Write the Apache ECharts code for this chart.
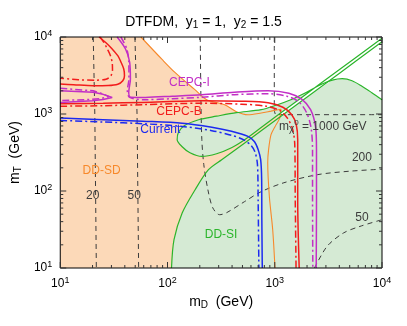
<!DOCTYPE html>
<html lang="en">
<head>
<meta charset="UTF-8">
<title>DTFDM</title>
<script src="https://cdn.jsdelivr.net/npm/echarts@6/dist/echarts.min.js"></script>
<style>html,body{margin:0;padding:0;background:#fff;}</style>
</head>
<body>
<div id="main" style="width:407px;height:326px;"></div>
<script type="text/javascript">
// all points are [m_D, m_T] in GeV
var ddsdEdge = [[56.5,10000],[89.5,5070],[118,3438],[180,2068],[232,1533],[341,1321],[439,1073],[563,979],[747,1030],[923,1090],[1142,1155],[1118,896],[1005,684],[923,539],[876,344],[860,233],[891,84],[957,31.4],[1005,10]];

var ddsiLower = [[109,10],[115,23.3],[137,51.8],[181,104],[241,189],[320,255],[521,418],[747,607],[1745,1444],[4077,3438],[10000,8690]];
var ddsiUpper = [[10000,9647],[4077,3840],[1745,1604],[747,668],[524,464],[395,365],[287,305],[209,281],[162,314],[137,376],[123,464],[126,572],[143,705],[195,843],[287,936],[439,1040],[747,1137],[1027,1301],[1411,1533],[1940,1891],[2668,2402],[3440,2748],[4254,2873],[5258,2707],[6501,2296],[8037,1891],[10000,1533]];
var ddsiMainArea = [[109,10],[115,23.3],[137,51.8],[181,104],[241,189],[320,255],[521,418],[747,607],[1745,1444],[3440,2756],[4254,2873],[5258,2707],[6501,2296],[8037,1891],[10000,1533],[10000,10]];
var ddsiLoopArea = [[2068,1949],[1940,1891],[1411,1533],[1027,1301],[747,1137],[439,1040],[287,936],[195,843],[143,705],[126,572],[123,464],[137,376],[162,314],[209,281],[287,305],[395,365],[524,464],[747,668],[1745,1604]];

var currentSolid = [[10,887],[25.1,843],[58.6,806],[137,760],[259,674],[395,598],[563,512],[648,437],[701,344],[739,255],[755,140],[758,42.4],[765,10]];
var currentDash = [[10,826],[25.1,787],[58.6,748],[137,690],[259,607],[395,530],[510,464],[604,388],[658,314],[690,220],[700,77],[711,10]];

var cepcBSolid = [[10,1361],[25.1,1381],[58.6,1415],[209,1488],[489,1466],[866,1403],[1191,1225],[1441,979],[1587,726],[1637,464],[1637,77],[1690,10]];
var cepcBDash = [[10,1263],[25.1,1282],[58.6,1321],[209,1381],[489,1341],[830,1263],[1118,1104],[1324,869],[1472,626],[1537,399],[1553,77],[1580,10]];
var cepcBTopSolid = [[23.0,10000],[26.7,8434],[30.5,6986],[34.4,5717],[36.7,4777],[39.1,3840],[39.7,3143],[38.3,2707],[34.4,2438],[27.9,2345],[20.3,2331],[13.3,2402],[10,2452]];
var cepcBTopDash = [[23.5,10000],[25.6,8434],[27.5,6986],[29.4,5717],[30.5,4637],[30.7,3760],[29.7,3143],[26.7,2831],[21.1,2748],[14.7,2789],[10,2917]];

var cepcISolid = [[33.9,10000],[40.6,6986],[44.4,4677],[45.1,2848],[43.5,1908],[45.4,1652],[62.4,1643],[111,1703],[209,1781],[421,1919],[866,2007],[1353,1863],[1782,1557],[2158,1137],[2399,684],[2450,344],[2450,77],[2435,10]];
var cepcIDash = [[36.7,10000],[41.7,7047],[43.5,4777],[43.7,2873],[42.2,2007],[44.4,1643],[62.4,1533],[111,1580],[209,1652],[421,1781],[866,1834],[1297,1703],[1672,1444],[1982,1040],[2180,664],[2251,344],[2251,77],[2265,10]];
var cepcISpikeSolid = [[10,2007],[20.3,1920],[25.1,1800],[30.5,1643],[25.1,1543],[20,1488],[10,1415]];
var cepcISpikeDash = [[10,2160],[20.3,2000],[25,1820],[28.5,1680],[24,1590],[18,1540],[10,1500]];

var mchi20 = [[20.3,10000],[21,1000],[21.7,10]];
var mchi50 = [[49.7,10000],[52,1000],[53.8,10]];
var mchi200 = [[202,10000],[205,1533],[209,464],[218,220],[238,104],[264,60.7],[306,49.2],[355,52.2],[521,72.6],[747,98],[1217,128],[2502,163],[5040,181],[10000,192]];
var mchi1000 = [[990,10000],[990,1150],[1020,990],[1300,980],[10000,980]];
var mchi50low = [[2349,10],[3074,19.1],[4373,28.5],[6229,34.7],[10000,42.4]];

var majorTicks = [10,100,1000,10000];
var minorTicks = [20,30,40,50,60,70,80,90,200,300,400,500,600,700,800,900,2000,3000,4000,5000,6000,7000,8000,9000];

var labelTexts = ['DD-SD','DD-SI','CEPC-I','CEPC-B','Current','20','50','200','50','m{sb|χ}{sp|0} = 1000 GeV'];
var labelPoints = [[24.3,183],[316,27.1],[160,2550],[128,1072],[85.8,626],[20.1,88.2],[48.9,88.2],[6501,267],[6501,45],[984,684]];

var C = {
    sdFill: '#fcd9b8', sdLine: '#f7892b',
    siFill: '#d5ead4', siLine: '#2bb52b',
    red: '#f21c1c', mag: '#c22fc6', blue: '#1c2af0', gray: '#3c3c3c'
};
var FONT = '"Liberation Sans", Arial, sans-serif';
var DASHDOT = [7, 3, 2, 3];

var myChart = echarts.init(document.getElementById('main'));

function area(pts, color, z) {
    return {
        type: 'custom', data: pts, z: z, silent: true, animation: false,
        renderItem: function (params, api) {
            if (params.dataIndex !== 0) return null;
            return {
                type: 'polygon',
                shape: { points: pts.map(function (p) { return api.coord(p); }) },
                style: { fill: color }
            };
        }
    };
}

function curve(pts, color, type, width, z, smooth) {
    return {
        type: 'line', data: pts, symbol: 'none', silent: true, animation: false,
        smooth: smooth === undefined ? 0.3 : smooth, z: z,
        lineStyle: { color: color, type: type, width: width }
    };
}

var labelColors = [C.sdLine, C.siLine, C.mag, C.red, C.blue, C.gray, C.gray, C.gray, C.gray, C.gray];

var series = [
    area([[10,10000]].concat(ddsdEdge, [[10,10]]), C.sdFill, 1),
    area(ddsiMainArea, C.siFill, 2),
    area(ddsiLoopArea, C.siFill, 2),
    curve(mchi20, C.gray, [5,4], 1, 3, false),
    curve(mchi50, C.gray, [5,4], 1, 3, false),
    curve(mchi200, C.gray, [5,4], 1, 3),
    curve(mchi1000, C.gray, [5,4], 1, 3, 0.2),
    curve(mchi50low, C.gray, [5,4], 1, 3),
    curve(ddsdEdge, C.sdLine, 'solid', 1.1, 4),
    curve(ddsiLower, C.siLine, 'solid', 1.2, 4),
    curve(ddsiUpper, C.siLine, 'solid', 1.2, 4),
    curve(currentSolid, C.blue, 'solid', 1.5, 5),
    curve(currentDash, C.blue, DASHDOT, 1.5, 5),
    curve(cepcBSolid, C.red, 'solid', 1.5, 5),
    curve(cepcBDash, C.red, DASHDOT, 1.5, 5),
    curve(cepcBTopSolid, C.red, 'solid', 1.5, 5),
    curve(cepcBTopDash, C.red, DASHDOT, 1.5, 5),
    curve(cepcISolid, C.mag, 'solid', 1.5, 5),
    curve(cepcIDash, C.mag, DASHDOT, 1.5, 5),
    curve(cepcISpikeSolid, C.mag, 'solid', 1.5, 5, false),
    curve(cepcISpikeDash, C.mag, DASHDOT, 1.5, 5, false),
    {
        type: 'scatter', symbolSize: 0, z: 6, silent: true, animation: false,
        itemStyle: { opacity: 1 },
        data: labelPoints.map(function (p, i) {
            var lab = { formatter: labelTexts[i], color: labelColors[i] };
            if (i === labelTexts.length - 1) { lab.position = 'right'; lab.distance = 5; }
            return { value: p, label: lab };
        }),
        label: {
            show: true, position: 'inside', fontSize: 12, fontFamily: FONT, opacity: 1,
            textBorderWidth: 0,
            rich: {
                sb: { fontSize: 10, color: C.gray, verticalAlign: 'bottom', padding: [6, 0, 0, 0] },
                sp: { fontSize: 8, color: C.gray, verticalAlign: 'top', padding: [0, 0, 4, 0] }
            }
        }
    },
    {
        // frame and tick marks on all four sides
        type: 'custom', data: [[10, 10]], z: 7, silent: true, animation: false,
        renderItem: function (params, api) {
            var lo = api.coord([10, 10]), hi = api.coord([10000, 10000]);
            var kids = [{
                type: 'rect',
                shape: { x: lo[0], y: hi[1], width: hi[0] - lo[0], height: lo[1] - hi[1] },
                style: { fill: null, stroke: '#000', lineWidth: 1 }
            }];
            function tick(v, len) {
                var px = api.coord([v, 10])[0], py = api.coord([10, v])[1];
                var s = { stroke: '#333', lineWidth: 1 };
                kids.push({ type: 'line', shape: { x1: px, y1: lo[1], x2: px, y2: lo[1] - len }, style: s });
                kids.push({ type: 'line', shape: { x1: px, y1: hi[1], x2: px, y2: hi[1] + len }, style: s });
                kids.push({ type: 'line', shape: { x1: lo[0], y1: py, x2: lo[0] + len, y2: py }, style: s });
                kids.push({ type: 'line', shape: { x1: hi[0], y1: py, x2: hi[0] - len, y2: py }, style: s });
            }
            majorTicks.forEach(function (v) { tick(v, 6); });
            minorTicks.forEach(function (v) { tick(v, 3); });
            return { type: 'group', children: kids };
        }
    }
];

var supRich = { s: { fontSize: 9, verticalAlign: 'top', padding: [0, 0, 6, 0], fontFamily: FONT, color: '#000' } };
function powLabel(v) { return '10{s|' + Math.round(Math.log10(v)) + '}'; }

myChart.setOption({
    animation: false,
    title: {
        text: 'DTFDM,  y{s|1} = 1,  y{s|2} = 1.5',
        left: 'center', top: 9,
        textStyle: {
            fontSize: 14, fontWeight: 'normal', color: '#000', fontFamily: FONT,
            rich: { s: { fontSize: 10, verticalAlign: 'bottom', padding: [6, 0, 0, 0], fontFamily: FONT, color: '#000' } }
        }
    },
    grid: { left: 57, right: 25, top: 37, bottom: 58 },
    xAxis: {
        type: 'log', logBase: 10, min: 10, max: 10000,
        name: 'm{s|D}  (GeV)', nameLocation: 'middle', nameGap: 26,
        nameTextStyle: { fontSize: 14, color: '#000', fontFamily: FONT,
            rich: { s: { fontSize: 10, verticalAlign: 'bottom', padding: [6, 0, 0, 0], fontFamily: FONT, color: '#000' } } },
        axisLine: { show: false }, axisTick: { show: false }, splitLine: { show: false },
        axisLabel: { formatter: powLabel, fontSize: 12, color: '#000', fontFamily: FONT, margin: 8, rich: supRich }
    },
    yAxis: {
        type: 'log', logBase: 10, min: 10, max: 10000,
        name: 'm{s|T}  (GeV)', nameLocation: 'middle', nameGap: 36,
        nameTextStyle: { fontSize: 14, color: '#000', fontFamily: FONT,
            rich: { s: { fontSize: 10, verticalAlign: 'bottom', padding: [6, 0, 0, 0], fontFamily: FONT, color: '#000' } } },
        axisLine: { show: false }, axisTick: { show: false }, splitLine: { show: false },
        axisLabel: { formatter: powLabel, fontSize: 12, color: '#000', fontFamily: FONT, margin: 8, rich: supRich }
    },
    series: series
});
</script>
</body>
</html>
